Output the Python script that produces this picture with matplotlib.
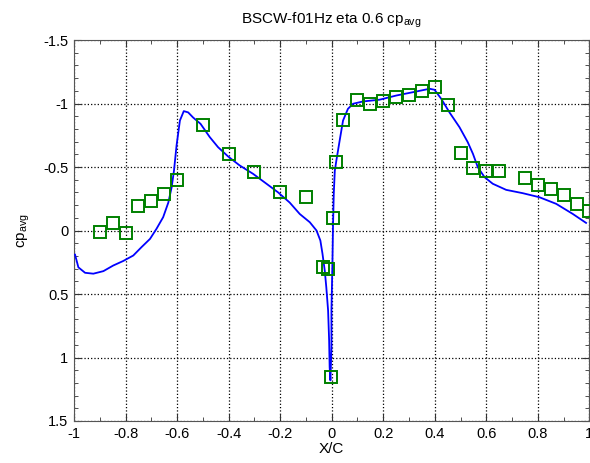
import matplotlib.pyplot as plt
from matplotlib.ticker import MultipleLocator, FuncFormatter

plt.rcParams['font.family'] = ['Liberation Sans', 'DejaVu Sans']
plt.rcParams['axes.unicode_minus'] = False
plt.rcParams['mathtext.fontset'] = 'custom'
plt.rcParams['mathtext.rm'] = 'Liberation Sans'

# computed cp_avg along the section
line_x = [-0.996, -0.983, -0.957, -0.925, -0.886, -0.848, -0.809, -0.770, -0.738,
          -0.705, -0.680, -0.654, -0.634, -0.621, -0.612, -0.602, -0.589, -0.574,
          -0.557, -0.538, -0.509, -0.473, -0.441, -0.402, -0.357, -0.305, -0.253,
          -0.208, -0.163, -0.124, -0.085, -0.059, -0.044, -0.036, -0.027, -0.021,
          -0.014, -0.010, -0.008, -0.005, -0.001, -0.001, 0.003, 0.005, 0.008,
          0.012, 0.018, 0.031, 0.044, 0.063, 0.083, 0.121, 0.186, 0.251, 0.315,
          0.380, 0.399, 0.425, 0.457, 0.496, 0.528, 0.548, 0.567, 0.593, 0.625,
          0.677, 0.741, 0.806, 0.871, 0.935, 0.987]
line_cp = [0.19, 0.29, 0.333, 0.34, 0.32, 0.276, 0.24, 0.197, 0.131,
           0.066, -0.013, -0.105, -0.22, -0.341, -0.472, -0.67, -0.866, -0.94,
           -0.93, -0.89, -0.84, -0.735, -0.656, -0.583, -0.512, -0.446, -0.368,
           -0.30, -0.22, -0.13, -0.065, 0.0, 0.079, 0.18, 0.315, 0.446,
           0.63, 0.866, 1.076, 1.18, 0.92, 0.63, 0.236, -0.026, -0.289,
           -0.47, -0.55, -0.71, -0.866, -0.958, -0.998, -1.016, -1.03, -1.063, -1.089,
           -1.116, -1.108, -1.037, -0.93, -0.813, -0.695, -0.604, -0.498, -0.42, -0.368,
           -0.32, -0.294, -0.262, -0.21, -0.131, -0.06]

# measured cp_avg
exp_x = [-0.9, -0.85, -0.8, -0.75, -0.7, -0.65, -0.6, -0.5, -0.4, -0.3, -0.2, -0.1,
         -0.033, -0.016, -0.003, 0.005, 0.015, 0.045, 0.1, 0.15, 0.2, 0.25, 0.3,
         0.35, 0.4, 0.45, 0.5, 0.55, 0.6, 0.65, 0.75, 0.8, 0.85, 0.9, 0.95, 1.0]
exp_cp = [0.01, -0.06, 0.02, -0.19, -0.23, -0.29, -0.40, -0.83, -0.60, -0.46, -0.30, -0.26,
          0.29, 0.30, 1.15, -0.10, -0.54, -0.87, -1.03, -1.00, -1.02, -1.05, -1.07,
          -1.10, -1.13, -0.99, -0.61, -0.49, -0.47, -0.47, -0.41, -0.36, -0.33, -0.28, -0.21, -0.15]

fig = plt.figure(figsize=(5.9, 4.63), dpi=100)
ax = fig.add_axes([74 / 590, 42 / 463, 1 - 74 / 590 - 0.001, 381 / 463])

ax.plot(line_x, line_cp, color='#0000ff', lw=1.3, zorder=3)
ax.plot(exp_x, exp_cp, ls='none', marker='s', ms=8.5, mfc='none',
        mec='#008000', mew=1.4, zorder=4, clip_on=False)

fmt = FuncFormatter(lambda v, p: '%g' % round(v, 6))
ax.set_xlim(-1, 1)
ax.set_ylim(1.5, -1.5)
ax.xaxis.set_major_locator(MultipleLocator(0.2))
ax.xaxis.set_minor_locator(MultipleLocator(0.1))
ax.yaxis.set_major_locator(MultipleLocator(0.5))
ax.yaxis.set_minor_locator(MultipleLocator(0.1))
ax.xaxis.set_major_formatter(fmt)
ax.yaxis.set_major_formatter(fmt)
ax.tick_params(which='both', direction='in', top=True, right=True,
               labelsize=10.5, colors='#333333', labelcolor='black', pad=4)
ax.tick_params(which='major', length=5)
ax.tick_params(which='minor', length=3)
ax.grid(True, which='major', color='black', ls=':', lw=0.9)
for s in ax.spines.values():
    s.set_color('#555555')

ax.set_title('BSCW-f01Hz eta 0.6 cp$_{\\mathregular{avg}}$', fontsize=11, pad=12)
ax.set_xlabel('X/C', fontsize=11, labelpad=1)
ax.set_ylabel('cp$_{\\mathregular{avg}}$', fontsize=11, labelpad=8)

fig.savefig('out.png', dpi=100)
